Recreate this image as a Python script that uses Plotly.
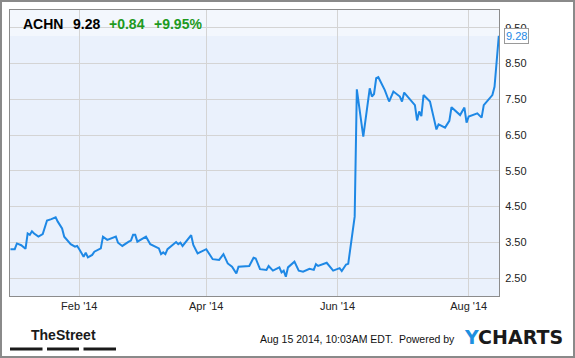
import plotly.graph_objects as go

dates = [
    "2013-12-31", "2014-01-02", "2014-01-03", "2014-01-05", "2014-01-07", "2014-01-08",
    "2014-01-09", "2014-01-10", "2014-01-11", "2014-01-13", "2014-01-15", "2014-01-17",
    "2014-01-19", "2014-01-21", "2014-01-22", "2014-01-24", "2014-01-25", "2014-01-27",
    "2014-01-28", "2014-01-30", "2014-01-31", "2014-02-01", "2014-02-03", "2014-02-04",
    "2014-02-05", "2014-02-07", "2014-02-08", "2014-02-11", "2014-02-12", "2014-02-14",
    "2014-02-15", "2014-02-18", "2014-02-19", "2014-02-21", "2014-02-24", "2014-02-25",
    "2014-02-26", "2014-02-27", "2014-02-28", "2014-03-04", "2014-03-06", "2014-03-10",
    "2014-03-11", "2014-03-12", "2014-03-13", "2014-03-14", "2014-03-18", "2014-03-19",
    "2014-03-20", "2014-03-21", "2014-03-25", "2014-03-26", "2014-03-28", "2014-04-01",
    "2014-04-04", "2014-04-07", "2014-04-09", "2014-04-11", "2014-04-13", "2014-04-15",
    "2014-04-16", "2014-04-21", "2014-04-23", "2014-04-24", "2014-04-26", "2014-04-29",
    "2014-04-30", "2014-05-02", "2014-05-05", "2014-05-06", "2014-05-07", "2014-05-08",
    "2014-05-09", "2014-05-12", "2014-05-14", "2014-05-16", "2014-05-19", "2014-05-21",
    "2014-05-22", "2014-05-23", "2014-05-27", "2014-05-30", "2014-06-02", "2014-06-03",
    "2014-06-05", "2014-06-06", "2014-06-09", "2014-06-10", "2014-06-13", "2014-06-16",
    "2014-06-17", "2014-06-18", "2014-06-19", "2014-06-20", "2014-06-23", "2014-06-25",
    "2014-06-27", "2014-06-30", "2014-07-01", "2014-07-02", "2014-07-07", "2014-07-08",
    "2014-07-09", "2014-07-10", "2014-07-11", "2014-07-14", "2014-07-16", "2014-07-17",
    "2014-07-18", "2014-07-21", "2014-07-23", "2014-07-24", "2014-07-28", "2014-07-30",
    "2014-07-31", "2014-08-01", "2014-08-05", "2014-08-07", "2014-08-08", "2014-08-12",
    "2014-08-13", "2014-08-14", "2014-08-15",
]
prices = [
    3.31, 3.31, 3.47, 3.42, 3.32, 3.75,
    3.71, 3.81, 3.75, 3.66, 3.73, 4.11,
    4.15, 4.20, 4.08, 3.89, 3.66, 3.50,
    3.45, 3.38, 3.40, 3.31, 3.10, 3.21,
    3.08, 3.15, 3.24, 3.33, 3.66, 3.57,
    3.59, 3.66, 3.49, 3.40, 3.52, 3.55,
    3.71, 3.71, 3.52, 3.66, 3.45, 3.33,
    3.17, 3.22, 3.17, 3.31, 3.51, 3.45,
    3.49, 3.40, 3.70, 3.43, 3.19, 3.31,
    3.03, 3.01, 3.17, 2.91, 2.82, 2.63,
    2.82, 2.84, 3.07, 3.05, 2.75, 2.73,
    2.84, 2.71, 2.80, 2.66, 2.71, 2.54,
    2.80, 2.96, 2.71, 2.68, 2.76, 2.73,
    2.89, 2.84, 2.93, 2.71, 2.78, 2.70,
    2.88, 2.90, 4.22, 7.78, 6.46, 7.81,
    7.58, 7.65, 8.09, 8.12, 7.76, 7.44,
    7.72, 7.58, 7.44, 7.69, 7.34, 6.91,
    7.16, 7.03, 7.62, 7.44, 6.92, 6.66,
    6.80, 6.71, 6.90, 7.28, 7.06, 7.27,
    6.85, 7.02, 7.11, 6.99, 7.34, 7.62,
    7.85, 8.51, 9.28,
]
y_ticks = [2.5, 3.5, 4.5, 5.5, 6.5, 7.5, 8.5, 9.5]
ticker = "ACHN"
last_price = "9.28"
change = "+0.84"
change_pct = "+9.95%"
stamp = "Aug 15 2014, 10:03AM EDT.  Powered by"

W, H = 575, 358
L, R, T, B = 10, 76, 10, 62
pw, ph = W - L - R, H - T - B


def px(x):
    return (x - L) / pw


def py(y):
    return (H - B - y) / ph


LINE = "#1e88e5"
GREEN = "#1e9a1e"
FONT = "Liberation Sans, Arial, sans-serif"

fig = go.Figure()
fig.add_trace(go.Scatter(
    x=dates, y=prices, mode="lines",
    line=dict(color=LINE, width=2), hoverinfo="skip", showlegend=False,
))

fig.update_layout(
    width=W, height=H,
    margin=dict(l=L, r=R, t=T, b=B),
    paper_bgcolor="white",
    plot_bgcolor="#eaf1fc",
    font=dict(family=FONT, size=11, color="#222"),
    xaxis=dict(
        range=["2013-12-30 19:00", "2014-08-15 02:00"],
        tickformat="%b '%y", dtick="M2", tick0="2014-02-01",
        showgrid=True, gridcolor="#d4d4d4", gridwidth=1,
        showline=True, linecolor="#8c8c8c", linewidth=1, mirror=True,
        ticks="", zeroline=False, fixedrange=True,
        tickfont=dict(size=11, color="#222"),
    ),
    yaxis=dict(
        range=[2, 10], side="right",
        tickvals=y_ticks, tickformat=".2f",
        showgrid=True, gridcolor="#d4d4d4", gridwidth=1,
        showline=True, linecolor="#8c8c8c", linewidth=1, mirror=True,
        ticks="", ticklabelstandoff=3, zeroline=False, fixedrange=True,
        tickfont=dict(size=11, color="#222"),
    ),
)

shapes = [
    # light header band inside plot
    dict(type="rect", xref="paper", yref="paper", x0=0, x1=1, y0=py(36), y1=1,
         fillcolor="rgba(255,255,255,0.45)", line=dict(width=0), layer="below"),
    # outer border
    dict(type="rect", xref="paper", yref="paper", x0=px(1), x1=px(574), y0=py(357), y1=py(1),
         line=dict(color="#8a8a8a", width=2), fillcolor="rgba(0,0,0,0)"),
]
for x0, x1 in [(10, 42.5), (47, 79), (83.5, 116)]:
    shapes.append(dict(type="rect", xref="paper", yref="paper", x0=px(x0), x1=px(x1),
                       y0=py(350.5), y1=py(347.5), fillcolor="#1a1a1a", line=dict(width=0)))
fig.update_layout(shapes=shapes)

ann = []
for txt, x, col in [(ticker, 21, "#000"), (last_price, 71, "#000"),
                    (change, 107, GREEN), (change_pct, 152, GREEN)]:
    ann.append(dict(text="<b>%s</b>" % txt, xref="paper", yref="paper", x=px(x), y=py(24),
                    xanchor="left", yanchor="middle", showarrow=False,
                    font=dict(family=FONT, size=14, color=col)))
# last price callout
ann.append(dict(text=last_price, x=dates[-1], y=prices[-1], xref="x", yref="y",
                xanchor="left", yanchor="middle", xshift=5, showarrow=False,
                bgcolor="white", bordercolor="#9a9a9a", borderwidth=1, borderpad=1,
                font=dict(family=FONT, size=11, color=LINE)))
# footer
ann.append(dict(text="<b>TheStreet</b>", xref="paper", yref="paper", x=px(63), y=py(335),
                xanchor="center", yanchor="middle", showarrow=False,
                font=dict(family="Liberation Sans Narrow, Arial Narrow, sans-serif", size=14, color="#1a1a1a")))
ann.append(dict(text=stamp, xref="paper", yref="paper", x=px(457), y=py(339),
                xanchor="right", yanchor="middle", showarrow=False,
                font=dict(family=FONT, size=10.5, color="#111")))
ann.append(dict(text="<b><span style='color:#1e90e0'>Y</span>CHARTS</b>", xref="paper", yref="paper",
                x=px(565), y=py(337), xanchor="right", yanchor="middle", showarrow=False,
                font=dict(family="DejaVu Sans, sans-serif", size=19, color="#1a1a1a")))
fig.update_layout(annotations=ann)

fig.write_html("out.html")
